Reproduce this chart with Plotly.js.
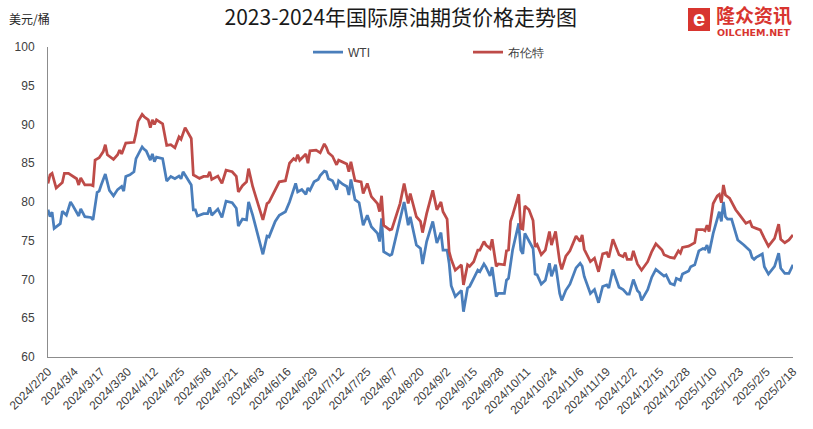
<!DOCTYPE html>
<html><head><meta charset="utf-8">
<script src="https://cdn.plot.ly/plotly-3.0.1.min.js"></script>
<style>html,body{margin:0;padding:0;background:#fff}#chart{width:813px;height:429px}</style>
</head><body><div id="chart"></div>
<script>
// x values: days since the start date (2024/2/20)
const startDate = '2024-02-20';
const endDay = 364;
const tickStepDays = 13;

const wtiDay = [0,1,2,3,6,7,9,11,12,15,16,18,21,22,24,25,26,28,30,32,
  34,36,37,38,40,42,43,46,47,48,50,51,52,53,56,58,60,62,64,65,
  66,70,71,72,73,76,78,79,80,83,85,87,90,92,93,95,97,98,100,105,
  107,108,111,113,116,118,120,121,122,124,126,127,128,130,132,133,135,136,137,139,
  141,142,144,146,147,148,150,152,154,156,158,161,162,163,164,167,168,170,172,174,
  176,177,180,182,183,185,188,190,192,193,195,196,197,199,202,203,205,206,208,210,
  211,213,214,216,217,219,220,223,224,225,227,230,231,232,233,237,238,239,241,243,
  245,246,248,250,251,253,255,258,260,261,262,265,267,269,271,273,274,276,279,281,
  283,284,286,288,289,290,293,295,297,300,301,302,304,306,307,309,310,313,314,316,
  318,320,321,322,323,325,327,328,329,330,331,332,334,336,337,340,343,344,345,346,
  349,350,352,355,357,358,360,362,364];
const wtiVal = [79.0,78.1,78.7,76.6,77.2,78.8,78.3,80.0,79.6,78.2,79.1,78.1,78.0,77.7,81.25,81.4,82.2,83.6,81.5,80.8,
  81.6,82.0,81.4,83.3,83.5,83.9,85.6,87.1,86.8,86.6,85.4,86.2,85.2,85.8,85.6,82.7,83.3,83.0,83.35,83.0,
  83.9,82.2,79.0,79.0,78.2,78.5,78.5,79.3,78.3,79.1,78.0,80.1,79.9,79.2,76.9,77.8,77.7,80.0,78.3,73.25,
  75.6,75.5,77.5,78.3,78.75,80.0,81.6,82.4,81.3,81.6,81.0,81.8,81.5,82.6,82.9,83.4,84.0,83.9,83.0,82.75,
  81.6,82.75,82.3,82.0,80.9,82.9,80.3,79.9,77.0,78.3,76.8,75.95,74.9,77.9,73.6,73.1,73.25,75.5,77.8,80.0,
  77.0,78.1,74.45,74.0,72.0,74.9,77.5,74.7,76.05,73.8,73.8,72.1,69.2,67.8,68.6,65.85,68.9,69.1,70.15,71.2,
  71.0,72.0,71.6,70.45,71.6,67.8,68.2,68.2,69.9,70.15,73.8,77.25,73.8,73.3,75.95,74.0,70.7,70.6,69.4,69.9,
  72.1,70.4,71.9,68.2,67.3,68.6,69.4,71.5,72.1,71.7,70.4,68.2,68.7,67.0,69.1,69.3,68.9,71.3,69.0,68.7,
  68.1,68.1,70.0,68.55,68.3,67.3,68.7,70.3,71.3,70.7,70.45,70.6,69.5,69.3,70.15,69.9,70.7,71.1,71.65,71.9,
  73.7,74.0,73.9,74.45,73.4,75.95,77.8,78.75,77.5,80.0,78.1,77.8,77.8,75.75,75.1,74.45,73.7,72.85,72.6,72.85,
  73.3,71.65,70.7,71.7,73.4,71.45,70.8,70.8,71.9];

const brentDay = [0,1,2,4,7,8,10,12,14,15,16,18,21,22,23,25,27,28,29,32,
  34,35,36,38,42,43,44,46,47,49,50,51,52,53,56,58,60,62,64,65,
  67,70,71,72,74,76,78,79,80,83,85,87,90,92,93,95,97,98,100,105,
  107,108,111,113,116,118,120,121,122,123,126,127,128,131,133,135,136,137,139,141,
  142,146,147,148,150,153,154,156,158,161,162,163,164,167,168,170,172,174,176,177,
  180,182,183,185,188,190,192,193,195,196,197,199,202,203,205,206,208,210,211,213,
  214,216,217,219,220,223,224,225,226,227,230,231,232,233,235,237,238,239,241,243,
  245,246,248,250,251,253,255,258,260,261,262,265,267,269,271,273,274,276,279,281,
  282,283,285,286,288,290,293,295,297,300,301,304,306,308,309,310,313,316,317,320,
  321,322,323,325,327,328,329,330,331,333,334,336,338,341,343,344,346,348,350,352,
  355,357,358,360,362,364];
const brentVal = [82.4,83.5,83.7,81.8,82.5,83.7,83.7,83.4,83.0,82.2,83.1,82.2,82.2,82.1,85.4,85.7,86.5,87.4,86.1,85.5,
  86.1,86.7,86.2,87.6,87.7,88.85,90.4,91.3,91.0,90.6,89.6,90.6,90.0,90.6,90.1,87.3,87.4,87.0,88.4,88.1,
  89.6,88.2,83.5,83.35,83.05,83.3,83.3,83.9,82.9,83.35,82.4,84.1,83.9,83.3,81.3,82.1,82.6,84.3,82.0,77.7,
  79.8,80.0,81.5,82.6,82.75,85.0,85.6,85.4,86.1,85.4,86.2,85.0,86.6,86.7,86.35,87.5,87.05,86.35,85.9,84.8,
  85.4,84.9,83.9,85.2,82.75,82.6,81.1,82.4,80.7,79.8,78.75,80.8,77.0,76.4,76.5,78.1,79.8,82.4,79.8,81.1,
  78.1,77.5,76.05,78.5,81.5,79.0,80.0,78.75,77.8,73.6,72.6,71.2,71.9,69.3,71.9,71.7,72.3,73.8,73.8,74.9,
  74.45,74.0,75.2,71.7,72.0,71.9,73.7,73.8,77.5,78.3,81.0,76.6,76.5,79.5,79.0,77.6,74.2,74.5,73.2,73.8,
  76.2,74.45,76.2,72.3,71.3,73.0,73.7,75.6,74.9,75.75,73.9,72.3,72.75,71.0,73.3,73.45,72.85,75.2,73.2,72.95,
  73.45,72.6,72.6,73.7,72.0,71.2,72.3,73.6,74.6,73.8,73.2,72.85,72.75,73.7,73.4,74.15,74.3,74.75,76.45,76.45,
  76.3,77.0,76.2,79.8,80.8,81.0,79.9,82.2,80.9,80.5,80.0,79.0,78.3,77.25,77.5,76.8,76.6,76.4,75.3,74.3,
  75.3,77.15,75.2,74.75,75.1,75.75];

const seriesNames = ['WTI', '布伦特'];
const seriesColors = ['#4a7ebb', '#be4b48'];
const yTickVals = [60, 65, 70, 75, 80, 85, 90, 95, 100];
const titleText = '2023-2024年国际原油期货价格走势图';
const unitText = '美元/桶';

const DAY = 86400000;
const t0 = Date.UTC(2024, 1, 20);
function toDate(d) { return new Date(t0 + d * DAY).toISOString().slice(0, 10); }

// pixel helpers for decorations (plot area: x 48..793, y 47..357)
const L = 48, R = 793, T = 47, B = 357;
const px = x => (x - L) / (R - L);
const py = y => (B - y) / (B - T);

const traces = [
  {x: wtiDay.map(toDate), y: wtiVal, name: seriesNames[0], type: 'scatter', mode: 'lines',
   line: {color: seriesColors[0], width: 2.75}},
  {x: brentDay.map(toDate), y: brentVal, name: seriesNames[1], type: 'scatter', mode: 'lines',
   line: {color: seriesColors[1], width: 2.75}}
];

const tickFont = {family: 'Liberation Sans, Arial, sans-serif', size: 12, color: '#404040'};

const layout = {
  width: 813, height: 429,
  margin: {l: L, r: 813 - R, t: T, b: 429 - B, pad: 0},
  paper_bgcolor: '#ffffff', plot_bgcolor: '#ffffff',
  showlegend: true,
  title: {text: titleText, xref: 'container', yref: 'container', x: 0.493, y: 1 - 18 / 429,
    xanchor: 'center', yanchor: 'middle',
    font: {family: 'Noto Sans CJK SC, sans-serif', size: 21, color: '#1a1a1a'}},
  xaxis: {type: 'date', range: [toDate(0), toDate(endDay)], tick0: toDate(0), dtick: tickStepDays * DAY,
    tickformat: '%Y/%-m/%-d', tickangle: -45, showgrid: false, zeroline: false,
    showline: true, linecolor: '#8c8c8c', linewidth: 1, ticks: 'outside', ticklen: 2, tickcolor: 'rgba(0,0,0,0)',
    tickfont: tickFont, fixedrange: true},
  yaxis: {range: [60, 100], tickvals: yTickVals, showgrid: false, zeroline: false,
    showline: true, linecolor: '#8c8c8c', linewidth: 1, ticks: 'outside', ticklen: 10, tickcolor: 'rgba(0,0,0,0)',
    tickfont: tickFont, fixedrange: true},
  legend: {orientation: 'h', x: px(308), xanchor: 'left', y: py(52), yanchor: 'middle',
    entrywidth: 115, entrywidthmode: 'pixels', font: {family: 'Liberation Sans, Arial, sans-serif', size: 12, color: '#404040'},
    bgcolor: 'rgba(0,0,0,0)'},
  shapes: [
    {type: 'rect', xref: 'paper', yref: 'paper', x0: px(688), x1: px(710), y0: py(31), y1: py(8),
     fillcolor: '#d8352f', line: {width: 0}, layer: 'above'}
  ],
  annotations: [
    {text: unitText, xref: 'paper', yref: 'paper', x: px(7), y: py(18), xanchor: 'left', yanchor: 'middle',
     showarrow: false, font: {family: 'Noto Sans CJK SC, sans-serif', size: 12, color: '#262626'}},
    {text: '<b>e</b>', xref: 'paper', yref: 'paper', x: px(699), y: py(18.5), xanchor: 'center', yanchor: 'middle',
     showarrow: false, font: {family: 'Liberation Sans, Arial, sans-serif', size: 22, color: '#ffffff'}},
    {text: '<b>隆众资讯</b>', xref: 'paper', yref: 'paper', x: px(754), y: py(14), xanchor: 'center', yanchor: 'middle',
     showarrow: false, borderpad: 0, font: {family: 'Noto Sans CJK SC, sans-serif', size: 19, color: '#d8352f'}},
    {text: '<b>OILCHEM.NET</b>', xref: 'paper', yref: 'paper', x: px(754), y: py(32), xanchor: 'center', yanchor: 'middle',
     showarrow: false, borderpad: 0, font: {family: 'DejaVu Sans, sans-serif', size: 9.5, color: '#d8352f'}}
  ]
};

Plotly.newPlot('chart', traces, layout, {displayModeBar: false, staticPlot: true});
</script>
</body></html>
